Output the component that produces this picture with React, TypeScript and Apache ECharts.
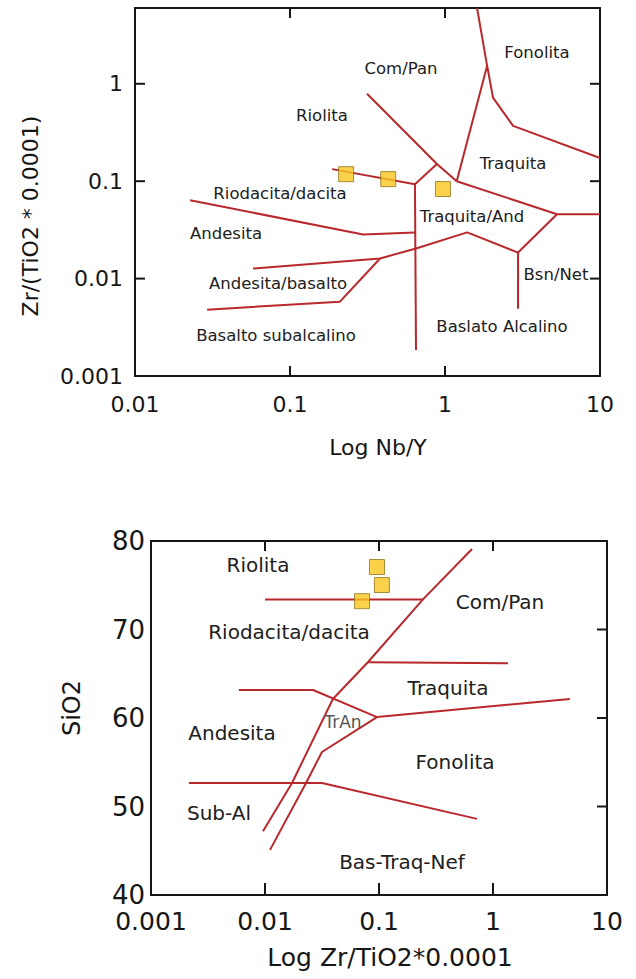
import React, { useEffect, useRef } from "react";
import * as echarts from "echarts";

// ---------- Top diagram: Nb/Y vs Zr/TiO2 (both logarithmic) ----------
const topXTicks = [0.01, 0.1, 1, 10];
const topXTickLabels = ["0.01", "0.1", "1", "10"];
const topYTicks = [0.001, 0.01, 0.1, 1];
const topYTickLabels = ["0.001", "0.01", "0.1", "1"];
const topXMin = 0.01;
const topXMax = 10;
const topYMin = 0.001;
const topYMax = 6;

const topSamplesX = [0.23, 0.43, 0.97];
const topSamplesY = [0.118, 0.105, 0.083];

const topLineFonolita = [[1.61, 6], [1.87, 1.53], [2.04, 0.72], [2.75, 0.37], [10, 0.173]];
const topLineComPan = [[0.314, 0.79], [0.887, 0.15], [1.19, 0.1]];
const topLineTraquitaLeft = [[1.19, 0.1], [1.87, 1.53]];
const topLineTraquitaBottom = [[1.19, 0.1], [5.28, 0.0457], [10, 0.0457]];
const topLineBsnNet = [[5.28, 0.0457], [2.96, 0.0185], [2.96, 0.0049]];
const topLineRiolita = [[0.187, 0.133], [0.64, 0.093], [0.887, 0.15]];
const topLineVertical = [[0.64, 0.093], [0.65, 0.00185]];
const topLineAndesita = [[0.0227, 0.0637], [0.296, 0.0284], [0.64, 0.0298]];
const topLineAndBasalto = [[0.0577, 0.0127], [0.381, 0.0161], [0.65, 0.0204], [1.39, 0.0298], [2.96, 0.0185]];
const topLineBasalto = [[0.0292, 0.0048], [0.21, 0.0058], [0.381, 0.0161]];

const topRegionNames = [
  "Riolita", "Com/Pan", "Fonolita", "Traquita", "Riodacita/dacita", "Traquita/And",
  "Andesita", "Andesita/basalto", "Bsn/Net", "Basalto subalcalino", "Baslato Alcalino",
];

// ---------- Bottom diagram: Zr/TiO2 (logarithmic) vs SiO2 ----------
const botXTicks = [0.001, 0.01, 0.1, 1, 10];
const botXTickLabels = ["0.001", "0.01", "0.1", "1", "10"];
const botXMin = 0.001;
const botXMax = 10;
const botYTicks = [40, 50, 60, 70, 80];
const botYMin = 40;
const botYMax = 80;
const botYInterval = 10;

const botSamplesX = [0.096, 0.106, 0.071];
const botSamplesY = [77.06, 75.03, 73.2];

const botLineMain = [[0.0096, 47.2], [0.01726, 52.66], [0.0394, 62.15], [0.0802, 66.33], [0.243, 73.4], [0.655, 79.1]];
const botLineSecond = [[0.01107, 45.1], [0.0229, 52.66], [0.0316, 56.16], [0.096, 60.1]];
const botLineRiolita = [[0.01, 73.4], [0.243, 73.4]];
const botLineTraquita = [[0.0802, 66.3], [1.355, 66.2]];
const botLineTrAnTop = [[0.0059, 63.16], [0.0264, 63.16], [0.096, 60.1]];
const botLineFonolita = [[0.096, 60.1], [4.73, 62.15]];
const botLineSubAl = [[0.00215, 52.66], [0.0316, 52.66], [0.724, 48.6]];

const botRegionNames = [
  "Riolita", "Com/Pan", "Riodacita/dacita", "Traquita", "TrAn", "Andesita",
  "Fonolita", "Sub-Al", "Bas-Traq-Nef",
];

const FONT = "DejaVu Sans";
const LINE_COLOR = "#B8282C";
const INK = "#161616";

const lg = (v: number) => Math.log10(v);

// label for a decade position on a log10-valued axis
function decadeLabel(ticks: number[], labels: string[]) {
  return (v: number) => {
    const r = Math.round(v);
    if (Math.abs(v - r) > 1e-6) return "";
    const idx = ticks.findIndex((t) => Math.round(lg(t)) === r);
    return idx >= 0 ? labels[idx] : "";
  };
}

export default function App() {
  const ref = useRef<HTMLDivElement>(null);

  useEffect(() => {
    if (!ref.current) return;
    const chart = echarts.init(ref.current, undefined, { renderer: "svg" });

    const G0 = { left: 135, top: 8, width: 465, height: 368 };
    const G1 = { left: 151, top: 541, width: 456, height: 354 };

    const axisLine = () => ({ show: true, onZero: false, lineStyle: { color: INK, width: 2 } });
    const noTick = () => ({ show: false });
    const noLabel = () => ({ show: false });
    const noSplit = () => ({ show: false });

    // gi 0: top diagram (log x, log y); gi 1: bottom diagram (log x, linear y)
    const toAxis = (p: number[], gi: number) => (gi === 0 ? [lg(p[0]), lg(p[1])] : [lg(p[0]), p[1]]);

    const lineSeries = (data: number[][], gi: number) => ({
      type: "line",
      xAxisIndex: gi * 2,
      yAxisIndex: gi * 2,
      data: data.map((p) => toAxis(p, gi)),
      symbol: "none",
      lineStyle: { color: LINE_COLOR, width: 2 },
      z: 2,
      silent: true,
    });

    const samples = (xs: number[], ys: number[], gi: number) => ({
      type: "scatter",
      xAxisIndex: gi * 2,
      yAxisIndex: gi * 2,
      data: xs.map((x, i) => toAxis([x, ys[i]], gi)),
      symbol: "rect",
      symbolSize: 15,
      itemStyle: { color: "#F7C51E", borderColor: "#8F7622", borderWidth: 1 },
      z: 5,
    });

    // Inward frame tick marks as short line segments in axis units (10 px long)
    const TL = 10;
    const ux0 = (lg(topXMax) - lg(topXMin)) / G0.width;
    const uy0 = (lg(topYMax) - lg(topYMin)) / G0.height;
    const ux1 = (lg(botXMax) - lg(botXMin)) / G1.width;
    const uy1 = (botYMax - botYMin) / G1.height;

    const tickSeg = (seg: number[][], gi: number) => ({
      type: "line",
      xAxisIndex: gi * 2,
      yAxisIndex: gi * 2,
      data: seg,
      symbol: "none",
      clip: false,
      silent: true,
      z: 20,
      lineStyle: { color: INK, width: 2 },
    });

    const tickSeries: any[] = [];
    topXTicks.slice(1, -1).forEach((v) => {
      const x = lg(v);
      tickSeries.push(
        tickSeg([[x, lg(topYMin)], [x, lg(topYMin) + TL * uy0]], 0),
        tickSeg([[x, lg(topYMax)], [x, lg(topYMax) - TL * uy0]], 0)
      );
    });
    topYTicks.slice(1).forEach((v) => {
      const y = lg(v);
      tickSeries.push(
        tickSeg([[lg(topXMin), y], [lg(topXMin) + TL * ux0, y]], 0),
        tickSeg([[lg(topXMax), y], [lg(topXMax) - TL * ux0, y]], 0)
      );
    });
    botXTicks.slice(1, -1).forEach((v) => {
      const x = lg(v);
      tickSeries.push(
        tickSeg([[x, botYMin], [x, botYMin + (TL + 2) * uy1]], 1),
        tickSeg([[x, botYMax], [x, botYMax - TL * uy1]], 1)
      );
    });
    botYTicks.slice(1, -1).forEach((v) => {
      tickSeries.push(tickSeg([[lg(botXMax), v], [lg(botXMax) - TL * ux1, v]], 1));
    });

    const topPos: [number, number][] = [
      [322, 115], [401, 68], [537, 52], [513, 163], [280, 193], [472, 216],
      [226, 233], [278, 283], [556, 274], [276, 335], [502, 326],
    ];
    const botPos: [number, number][] = [
      [258, 565], [500, 602], [289, 632], [448, 688], [343, 722], [232, 733],
      [455, 762], [219, 813], [402, 862],
    ];

    const txt = (text: string, x: number, y: number, fontSize: number, fill = INK, rotation = 0) => ({
      type: "text",
      x,
      y,
      rotation,
      z: 10,
      silent: true,
      style: {
        text,
        fontSize,
        fontFamily: FONT,
        fill,
        align: "center",
        verticalAlign: "middle",
        textAlign: "center",
        textVerticalAlign: "middle",
      },
    });

    const graphic: any[] = [
      ...topRegionNames.map((n, i) => txt(n, topPos[i][0], topPos[i][1], 16.5, "#202020")),
      ...botRegionNames.map((n, i) =>
        txt(n, botPos[i][0], botPos[i][1], n === "TrAn" ? 17 : 20, n === "TrAn" ? "#555" : "#202020")
      ),
      txt("Zr/(TiO2 * 0.0001)", 30, 216, 22, INK, Math.PI / 2),
      txt("Log Nb/Y", 378, 447, 22),
      txt("SiO2", 72, 708, 24, INK, Math.PI / 2),
      txt("Log Zr/TiO2*0.0001", 390, 957, 25),
    ];

    const logX = (min: number, max: number, gi: number, pos: string, label: any) => ({
      gridIndex: gi, type: "value", min: lg(min), max: lg(max), interval: 1, position: pos,
      axisLine: axisLine(), axisTick: noTick(), splitLine: noSplit(), axisLabel: label,
    });

    chart.setOption({
      animation: false,
      backgroundColor: "#ffffff",
      textStyle: { fontFamily: FONT },
      grid: [
        { ...G0, containLabel: false, outerBoundsMode: "none" },
        { ...G1, containLabel: false, outerBoundsMode: "none" },
      ],
      xAxis: [
        logX(topXMin, topXMax, 0, "bottom", {
          fontSize: 22, color: INK, fontFamily: FONT, margin: 17,
          formatter: decadeLabel(topXTicks, topXTickLabels),
        }),
        logX(topXMin, topXMax, 0, "top", noLabel()),
        logX(botXMin, botXMax, 1, "bottom", {
          fontSize: 25, color: INK, fontFamily: FONT, margin: 14,
          formatter: decadeLabel(botXTicks, botXTickLabels),
        }),
        logX(botXMin, botXMax, 1, "top", noLabel()),
      ],
      yAxis: [
        {
          gridIndex: 0, type: "value", min: lg(topYMin), max: lg(topYMax), interval: 1, position: "left",
          axisLine: axisLine(), axisTick: noTick(), splitLine: noSplit(),
          axisLabel: {
            fontSize: 22, color: INK, fontFamily: FONT, margin: 12,
            formatter: decadeLabel(topYTicks, topYTickLabels),
          },
        },
        {
          gridIndex: 0, type: "value", min: lg(topYMin), max: lg(topYMax), interval: 1, position: "right",
          axisLine: axisLine(), axisTick: noTick(), splitLine: noSplit(), axisLabel: noLabel(),
        },
        {
          gridIndex: 1, type: "value", min: botYMin, max: botYMax, interval: botYInterval, position: "left",
          axisLine: axisLine(), axisTick: noTick(), splitLine: noSplit(),
          axisLabel: { fontSize: 26, color: INK, fontFamily: FONT, margin: 6 },
        },
        {
          gridIndex: 1, type: "value", min: botYMin, max: botYMax, interval: botYInterval, position: "right",
          axisLine: axisLine(), axisTick: noTick(), splitLine: noSplit(), axisLabel: noLabel(),
        },
      ],
      series: [
        lineSeries(topLineFonolita, 0),
        lineSeries(topLineComPan, 0),
        lineSeries(topLineTraquitaLeft, 0),
        lineSeries(topLineTraquitaBottom, 0),
        lineSeries(topLineBsnNet, 0),
        lineSeries(topLineRiolita, 0),
        lineSeries(topLineVertical, 0),
        lineSeries(topLineAndesita, 0),
        lineSeries(topLineAndBasalto, 0),
        lineSeries(topLineBasalto, 0),
        samples(topSamplesX, topSamplesY, 0),
        lineSeries(botLineMain, 1),
        lineSeries(botLineSecond, 1),
        lineSeries(botLineRiolita, 1),
        lineSeries(botLineTraquita, 1),
        lineSeries(botLineTrAnTop, 1),
        lineSeries(botLineFonolita, 1),
        lineSeries(botLineSubAl, 1),
        samples(botSamplesX, botSamplesY, 1),
        ...tickSeries,
      ],
      graphic,
    });

    return () => chart.dispose();
  }, []);

  return (
    <div
      ref={ref}
      style={{ position: "fixed", left: 0, top: 0, width: 636, height: 979, background: "#fff" }}
    />
  );
}
